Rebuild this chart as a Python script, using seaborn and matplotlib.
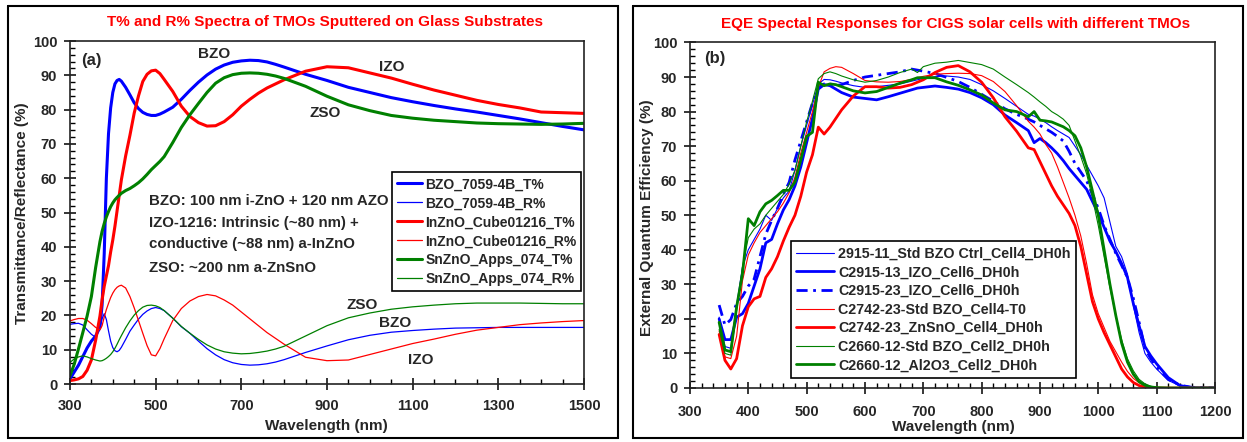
import matplotlib
matplotlib.use("Agg")
import matplotlib.pyplot as plt
from matplotlib.lines import Line2D
from matplotlib.ticker import MultipleLocator, FixedLocator
import seaborn as sns

# ---------------- (a) T% / R% spectra of TMO films on glass ----------------
wl_film = [300, 310, 320, 330, 340, 350, 360, 370,
           375, 380, 385, 390, 395, 400, 405, 410, 415, 420,
           430, 440, 450, 460, 470, 480, 490, 500, 510, 520,
           540, 560, 580, 600, 620, 640, 660, 680, 700, 720, 740, 760, 780, 800,
           850, 900, 950, 1000, 1050, 1100, 1150, 1200, 1250, 1300, 1350, 1400, 1450, 1500]

bzo_T = [1.5, 3.5, 5.5, 8, 10.5, 12.5, 14, 16.5,
         23, 38, 60, 73, 80.5, 85, 87.5, 88.5, 88.8, 88.3,
         86.5, 84.3, 82, 80.3, 79.2, 78.6, 78.3, 78.3, 78.7, 79.3,
         80.7, 83, 85.6, 88, 90.1, 91.8, 93, 93.8, 94.2, 94.4, 94.3, 93.9, 93.2, 92.4,
         90.3, 88.5, 86.5, 85, 83.5, 82.3, 81.2, 80.2, 79.3, 78.3, 77.3, 76.2, 75.1, 74.1]

bzo_R = [17.4, 17.6, 17.7, 17.2, 15.8, 14.5, 13.6, 16.5,
         19, 20.5, 18.8, 15.5, 12.5, 10.6, 9.7, 9.4, 9.8, 10.7,
         13, 15.4, 17.2, 18.9, 20.3, 21.3, 22, 22.3, 22, 21.4,
         19.2, 16.7, 14.8, 12.5, 10.3, 8.5, 7.1, 6.2, 5.7, 5.5, 5.6, 5.9, 6.4, 7.1,
         9.2, 11.1, 12.9, 14.2, 15.1, 15.6, 16, 16.3, 16.4, 16.5, 16.5, 16.5, 16.5, 16.5]

izo_T = [1, 1.2, 1.5, 2.2, 4, 7, 12.8, 19.8,
         24.5, 28.5, 31.5, 34.5, 38.5, 42, 46, 50.5, 55, 59.5,
         66.5, 72.5, 79, 84, 88.2, 90.3, 91.3, 91.5, 90.5, 88.8,
         85.3, 81, 78, 76.2, 75.2, 75.3, 76.5, 78.5, 81, 83, 84.8, 86.3, 87.5, 88.7,
         91.2, 92.5, 92.2, 90.7, 89.2, 87.4, 85.7, 84.2, 82.7, 81.5, 80.5, 79.3, 79.1, 78.9]

izo_R = [18.4, 18.8, 19.1, 19.1, 18.6, 17.6, 16.5, 15.8,
         17, 19.5, 21.7, 23.5, 25.2, 26.5, 27.5, 28.2, 28.6, 28.8,
         28, 25.5, 22.2, 18.5, 14.8, 11.2, 8.5, 8.2, 10.3, 13.2,
         18.5, 22, 24.2, 25.5, 26.1, 25.7, 24.5, 23, 21, 19, 17, 15, 13.3, 11.6,
         7.8, 6.8, 7, 8.6, 10.2, 11.8, 13.1, 14.5, 15.7, 16.5, 17.3, 17.8, 18.2, 18.5]

zso_T = [2.4, 5.8, 10.3, 15, 19.8, 25.5, 34, 41.5,
         44.5, 46.8, 48.7, 50.3, 51.7, 52.8, 53.7, 54.4, 55, 55.6,
         56.4, 57, 57.8, 58.7, 59.8, 61.1, 62.5, 63.7, 64.9, 66.3,
         70.4, 74.8, 78.5, 81.8, 85, 87.7, 89.3, 90.2, 90.6, 90.7, 90.6, 90.3, 89.8, 89.1,
         86.8, 83.9, 81.4, 79.7, 78.3, 77.5, 76.9, 76.5, 76.1, 75.9, 75.8, 75.7, 75.8, 76]

zso_R = [6.3, 7.3, 7.9, 8.2, 7.9, 7.4, 7, 6.7,
         6.8, 7.1, 7.5, 8, 8.6, 9.4, 10.4, 11.6, 12.9, 14.1,
         16.4, 18.4, 20.1, 21.4, 22.4, 22.9, 23, 22.8, 22.3, 21.4,
         19.2, 16.8, 14.8, 13, 11.4, 10.2, 9.4, 9, 8.8, 8.9, 9.2, 9.6, 10.2, 11,
         14, 17, 19.3, 20.7, 21.8, 22.5, 23, 23.4, 23.6, 23.6, 23.6, 23.5, 23.4, 23.4]

film_labels = ["BZO_7059-4B_T%", "BZO_7059-4B_R%", "InZnO_Cube01216_T%",
               "InZnO_Cube01216_R%", "SnZnO_Apps_074_T%", "SnZnO_Apps_074_R%"]
film_xticks = [300, 500, 700, 900, 1100, 1300, 1500]

# ---------------- (b) EQE of CIGS cells ----------------
wl_eqe = [350, 360, 370, 380, 390, 400, 410, 420, 430, 440, 450, 460, 470, 480, 490,
          500, 510, 520, 530, 540, 550, 560,
          580, 600, 620, 640, 660, 680, 690, 700, 720, 740, 760, 780, 800, 820, 840, 860, 880,
          890, 900, 910, 920, 930, 940, 950, 960, 970, 980, 990, 1000, 1010, 1020, 1030,
          1040, 1050, 1060, 1070, 1080, 1090, 1100,
          1120, 1140, 1160, 1200]

eqe_bzo_ctrl_2915 = [20.5, 12, 11.5, 24, 35, 40, 43, 46, 50, 48.5, 52, 55, 57, 63, 70,
                     76, 82, 88, 89.3, 89.2, 88.8, 88.3,
                     87.5, 87, 87.2, 87.6, 88, 88.8, 89.2, 89.6, 90.1, 90.3, 90, 89.3, 87.8, 86, 83.8, 81.5, 79.2,
                     78.7, 77.8, 76.8, 75.6, 74.5, 73.5, 72.5, 70, 67.5, 64.5, 61.5, 58.5, 55, 48, 41,
                     38, 33, 24, 16, 10, 7.5, 5.5,
                     2.2, 0.6, 0.1, 0]

eqe_izo_2915_13 = [20, 14, 14, 20.5, 21.5, 24.5, 29.5, 34.5, 42, 43, 47.5, 51.5, 54.5, 58.5, 64,
                   71, 78, 86.5, 87.8, 87.5, 86.5, 85.5,
                   84.2, 83.8, 83.4, 84.3, 85.3, 86.3, 86.8, 87, 87.4, 87, 86.5, 85.5, 84, 82, 79, 76.8, 74.5,
                   71, 72.2, 71, 69.5, 67.8, 65.8, 63.5, 61.5, 59.5, 57.5, 54, 50.5, 46.5, 42.5, 39.5,
                   36, 32, 24.5, 18, 12, 9.3, 7,
                   3, 0.7, 0.1, 0]

eqe_izo_2915_23 = [24, 18.2, 19.8, 24.5, 26.5, 29.5, 31.5, 38, 44.5, 48.5, 52, 56, 59.5, 66, 71.5,
                   77, 82.5, 87, 88, 88, 87.5, 87.8,
                   89, 90, 90.5, 91, 91.5, 92.3, 92, 91.7, 91, 89.9, 88.7, 87, 85, 83, 80.8, 79.2, 77.8,
                   77, 76, 75, 74, 72.8, 71.5, 68.5, 65, 62.5, 60, 56, 52, 47, 43, 39,
                   35.5, 32, 26, 19, 11.5, 8.5, 6,
                   2.5, 0.8, 0.2, 0]

eqe_bzo_std_2742 = [16.5, 9, 8.5, 15, 31, 38.5, 42, 45, 47, 49, 51, 53.5, 56.5, 61, 68,
                    74, 80, 87, 91.5, 92.5, 93, 92.8,
                    91, 89, 88.6, 88.5, 88.7, 89.3, 89.8, 90.2, 90.8, 91, 91.1, 91, 90.4, 88.7, 85.8, 81.7, 77.2,
                    75.5, 73.5, 70.5, 68, 64, 59.5, 55, 50, 44, 36, 27, 21.5, 17.5, 13.5, 10.5,
                    7.5, 4.8, 2.8, 1.5, 0.7, 0.3, 0.1,
                    0, 0, 0, 0]

eqe_znsno_2742 = [15.5, 8, 5.5, 8.5, 18, 23.5, 25.8, 26.5, 32, 34.5, 38, 42.5, 46.5, 50, 55.5,
                  62.5, 67.5, 75.5, 73.5, 75.5, 78, 80.5,
                  84.5, 87.2, 87.2, 86.8, 87, 87.8, 88.5, 89.2, 91.3, 92.8, 93.3, 91.5, 88.5, 84, 78.5, 74.3, 69.5,
                  69, 65.5, 62, 58.5, 55.5, 53, 50.5, 47, 41, 33, 25, 20, 16, 12.5, 9,
                  5.5, 3.2, 1.6, 0.7, 0.3, 0.1, 0,
                  0, 0, 0, 0]

eqe_bzo_std_2660 = [17, 10, 9.5, 22.5, 35, 43.5, 46, 47.5, 50, 52, 54, 56, 59, 63, 70,
                    77, 83, 89.5, 91, 91.5, 91, 90.3,
                    89.2, 88.5, 89, 90, 91.3, 92.3, 91.3, 93, 94, 94.3, 94.8, 94.2, 93.6, 92.3, 90, 87.8, 85.5,
                    84.2, 82.8, 81.5, 80, 79, 77.8, 76, 71.5, 67, 62, 55, 47, 38, 29, 21,
                    14, 8.5, 5, 2.5, 1.2, 0.5, 0.2,
                    0, 0, 0, 0]

eqe_al2o3_2660 = [19, 11, 10.5, 23.5, 33, 49, 47, 51, 53.3, 54.3, 55.7, 57.2, 57.2, 59.6, 66,
                  72.8, 74, 88.5, 87.5, 88, 87.8, 87.2,
                  86, 85.4, 85.8, 87, 88.2, 89.2, 89.8, 89.8, 89.8, 88.6, 87.6, 86.3, 84.8, 82.5, 80.5, 80, 78.5,
                  80, 77.5, 77.3, 77, 76.3, 75.6, 74.5, 73, 69.5, 64, 57, 50, 40, 30, 21,
                  13, 7.5, 4, 1.8, 0.8, 0.3, 0.1,
                  0, 0, 0, 0]

eqe_labels = ["2915-11_Std BZO Ctrl_Cell4_DH0h", "C2915-13_IZO_Cell6_DH0h",
              "C2915-23_IZO_Cell6_DH0h", "C2742-23-Std BZO_Cell4-T0",
              "C2742-23_ZnSnO_Cell4_DH0h", "C2660-12-Std BZO_Cell2_DH0h",
              "C2660-12_Al2O3_Cell2_DH0h"]

BLUE, RED, GREEN = "#0000FF", "#FF0000", "#008000"

sns.set_theme(style="ticks")
plt.rcParams["font.family"] = ["Liberation Sans", "DejaVu Sans"]
plt.rcParams["font.weight"] = "bold"
plt.rcParams["axes.labelweight"] = "bold"

fig = plt.figure(figsize=(12.47, 4.42), dpi=100)
ax_a = fig.add_axes([0.0561, 0.1312, 0.4122, 0.776])
ax_b = fig.add_axes([0.5533, 0.1222, 0.4210, 0.7817])

# black outline round each panel
W, H = 1247, 442
for px0, px1 in ((8, 618), (633, 1243)):
    xs = [px0 / W, px1 / W, px1 / W, px0 / W, px0 / W]
    ys = [1 - 6 / H, 1 - 6 / H, 1 - 438 / H, 1 - 438 / H, 1 - 6 / H]
    fig.add_artist(Line2D(xs, ys, transform=fig.transFigure,
                          color="black", linewidth=1.5, solid_joinstyle="miter"))

# ---- panel (a) ----
film_series = [(bzo_T, BLUE, 2.2), (bzo_R, BLUE, 0.9),
               (izo_T, RED, 2.2), (izo_R, RED, 0.9),
               (zso_T, GREEN, 2.2), (zso_R, GREEN, 0.9)]
for (vals, col, lw), lab in zip(film_series, film_labels):
    sns.lineplot(x=wl_film, y=vals, ax=ax_a, color=col, lw=lw, label=lab,
                 estimator=None, sort=False)

ax_a.set_xlim(300, 1500)
ax_a.set_ylim(0, 100)
ax_a.xaxis.set_major_locator(FixedLocator(film_xticks))
ax_a.xaxis.set_minor_locator(MultipleLocator(50))
ax_a.yaxis.set_major_locator(MultipleLocator(10))
ax_a.yaxis.set_minor_locator(MultipleLocator(2))

leg_a = ax_a.legend(loc="upper right", bbox_to_anchor=(0.995, 0.617),
                    frameon=True, fancybox=False, edgecolor="black", framealpha=1,
                    prop={"size": 10, "weight": "bold"}, handlelength=1.8,
                    handletextpad=0.25, labelspacing=0.36, borderpad=0.35,
                    borderaxespad=0)
leg_a.get_frame().set_linewidth(1.2)

txt = dict(fontsize=11, fontweight="bold", ha="center", va="center")
ax_a.text(637, 96.3, "BZO", **txt)
ax_a.text(1052, 92.5, "IZO", **txt)
ax_a.text(896, 78.9, "ZSO", **txt)
ax_a.text(982, 23, "ZSO", **txt)
ax_a.text(1060, 17.8, "BZO", **txt)
ax_a.text(1119, 6.9, "IZO", **txt)
ax_a.text(350, 94.4, "(a)", fontsize=12, fontweight="bold", ha="center", va="center")

notes = ["BZO: 100 nm i-ZnO + 120 nm AZO", "IZO-1216: Intrinsic (~80 nm) +",
         "conductive (~88 nm) a-InZnO", "ZSO: ~200 nm a-ZnSnO"]
for s, yv in zip(notes, [53.3, 47, 40.7, 33.9]):
    ax_a.text(485, yv, s, fontsize=10.8, fontweight="bold", ha="left", va="center")

ax_a.set_xlabel("Wavelength (nm)", fontsize=11, va="center")
ax_a.set_ylabel("Transmittance/Reflectance (%)", fontsize=11, va="center")
ax_a.xaxis.set_label_coords(0.498, -0.1224)
ax_a.yaxis.set_label_coords(-0.0934, 0.4985)

fig.text(325 / W, 1 - 21.6 / H,
         "T% and R% Spectra of TMOs Sputtered on Glass Substrates",
         color=RED, fontsize=11, fontweight="bold", ha="center", va="center")

# ---- panel (b) ----
eqe_series = [(eqe_bzo_ctrl_2915, BLUE, 0.8, "-"),
              (eqe_izo_2915_13, BLUE, 2.0, "-"),
              (eqe_izo_2915_23, BLUE, 2.0, (0, (4, 2, 1, 2))),
              (eqe_bzo_std_2742, RED, 0.8, "-"),
              (eqe_znsno_2742, RED, 2.0, "-"),
              (eqe_bzo_std_2660, GREEN, 0.8, "-"),
              (eqe_al2o3_2660, GREEN, 2.0, "-")]
for (vals, col, lw, ls), lab in zip(eqe_series, eqe_labels):
    sns.lineplot(x=wl_eqe, y=vals, ax=ax_b, color=col, lw=lw, label=lab,
                 estimator=None, sort=False)
    ax_b.lines[-1].set_linestyle(ls)

ax_b.set_xlim(300, 1200)
ax_b.set_ylim(0, 100)
ax_b.xaxis.set_major_locator(MultipleLocator(100))
ax_b.xaxis.set_minor_locator(MultipleLocator(20))
ax_b.yaxis.set_major_locator(MultipleLocator(10))
ax_b.yaxis.set_minor_locator(MultipleLocator(2))

leg_b = ax_b.legend(loc="lower left", bbox_to_anchor=(0.192, 0.029),
                    frameon=True, fancybox=False, edgecolor="black", framealpha=1,
                    prop={"size": 10.3, "weight": "bold"}, handlelength=2.6,
                    handletextpad=0.3, labelspacing=0.32, borderpad=0.4,
                    borderaxespad=0)
leg_b.get_frame().set_linewidth(1.2)
for h, (_, _, _, ls) in zip(leg_b.get_lines(), eqe_series):
    h.set_linestyle(ls)

ax_b.text(342, 95.5, "(b)", fontsize=12, fontweight="bold", ha="center", va="center")
ax_b.set_xlabel("Wavelength (nm)", fontsize=11, va="center")
ax_b.set_ylabel("External Quantum Efficiency (%)", fontsize=11, va="center")
ax_b.xaxis.set_label_coords(0.501, -0.1126)
ax_b.yaxis.set_label_coords(-0.0819, 0.494)

fig.text(956 / W, 1 - 24 / H,
         "EQE Spectal Responses for CIGS solar cells with different TMOs",
         color=RED, fontsize=11, fontweight="bold", ha="center", va="center")

# shared axis styling
for ax, xpad in ((ax_a, 7), (ax_b, 8.4)):
    for sp in ax.spines.values():
        sp.set_visible(True)
        sp.set_color("#222222")
        sp.set_linewidth(1.2)
    ax.tick_params(which="major", direction="inout", length=8, width=1.1,
                   labelsize=10.5, top=False, right=False, color="black")
    ax.tick_params(which="minor", direction="in", length=3.5, width=1,
                   top=False, right=False, color="black")
    ax.tick_params(axis="x", which="major", pad=xpad)
    ax.tick_params(axis="y", which="major", pad=5.2)
    for lbl in ax.get_xticklabels() + ax.get_yticklabels():
        lbl.set_fontweight("bold")

fig.savefig("out.png", dpi=100)
